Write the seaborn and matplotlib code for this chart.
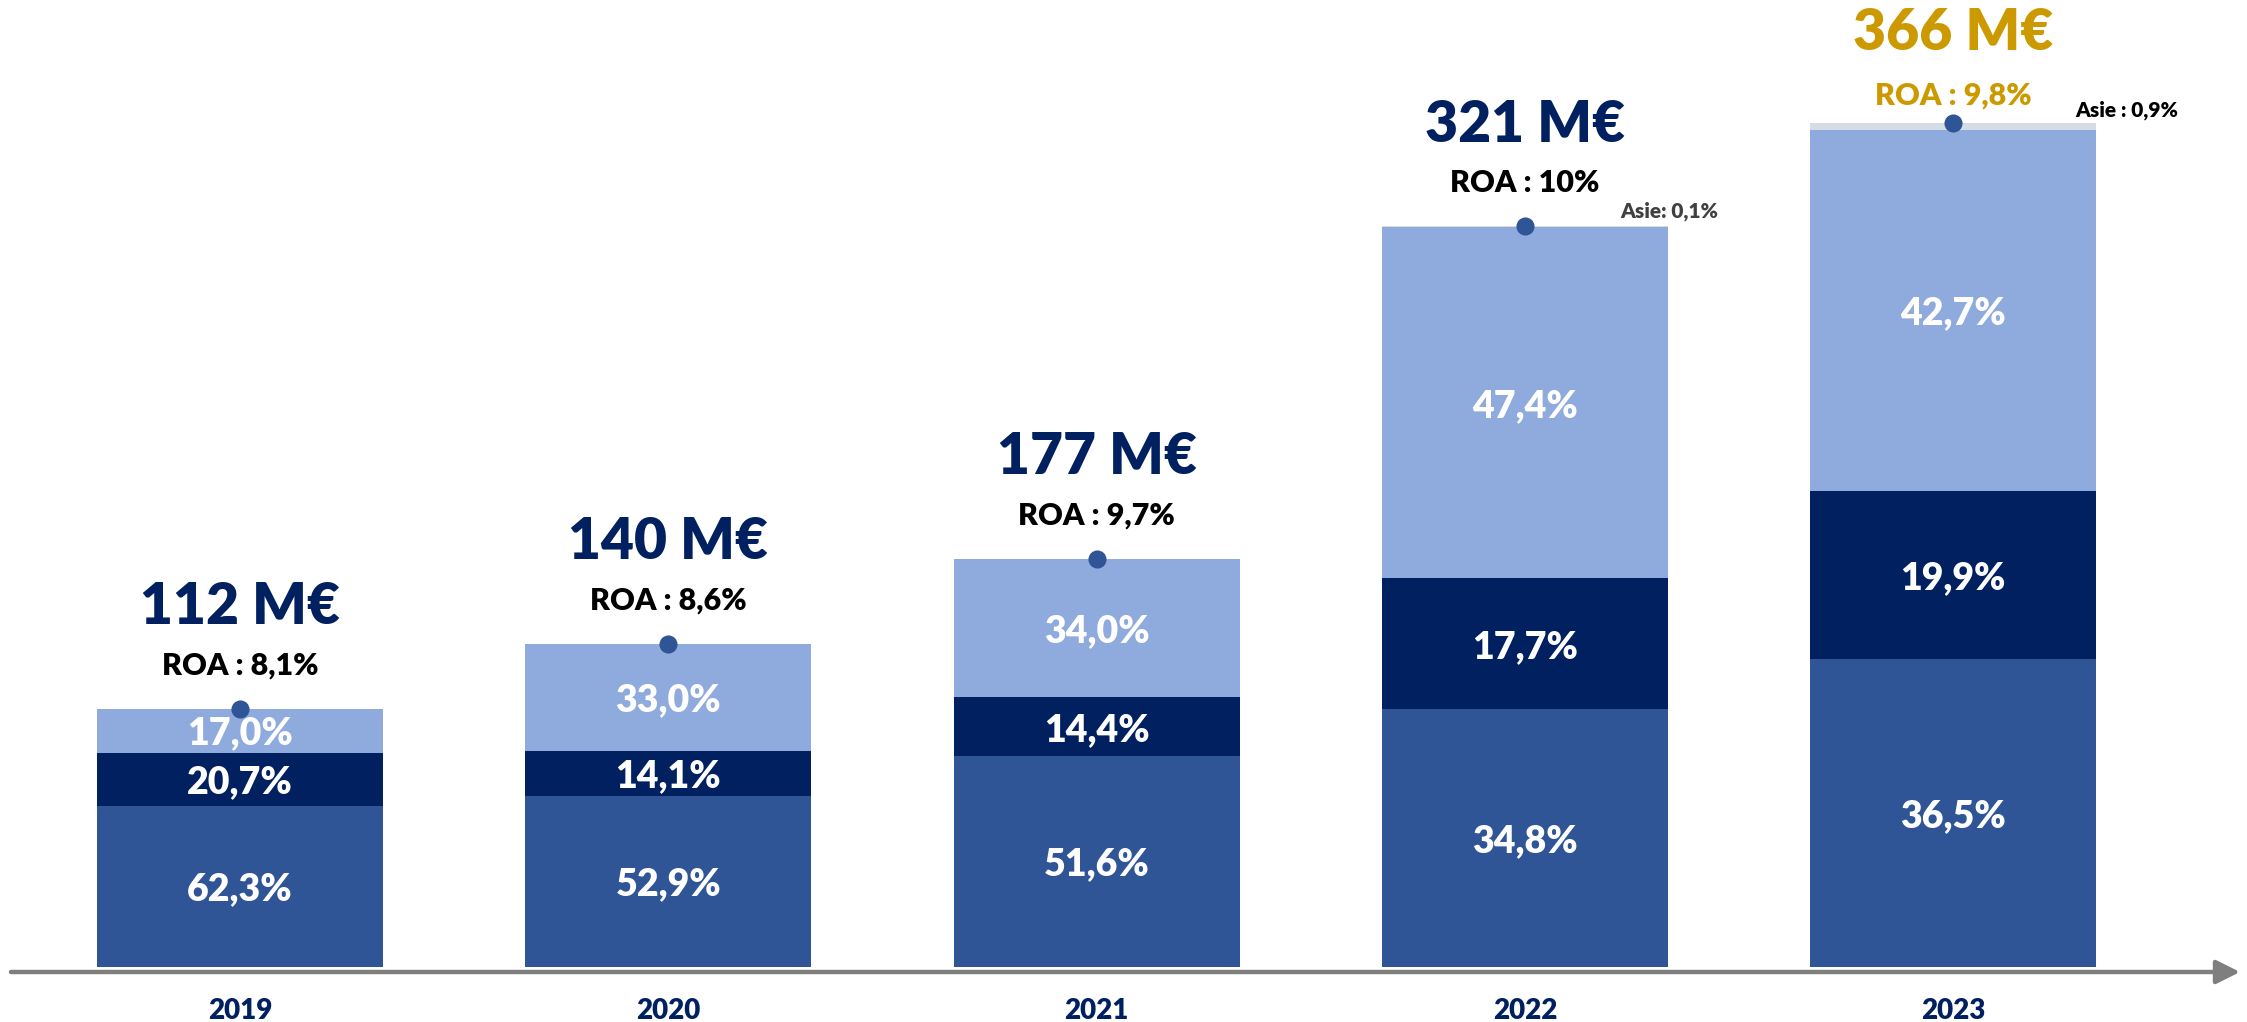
import numpy as np
import pandas as pd
import matplotlib
matplotlib.use("Agg")
import matplotlib.pyplot as plt
import seaborn as sns

# ---------------- data ----------------
years = ["2019", "2020", "2021", "2022", "2023"]
totals = [112, 140, 177, 321, 366]
total_labels = ["112 M€", "140 M€", "177 M€", "321 M€", "366 M€"]
roa_labels = ["ROA : 8,1%", "ROA : 8,6%", "ROA : 9,7%", "ROA : 10%", "ROA : 9,8%"]
share_dark = [62.3, 52.9, 51.6, 34.8, 36.5]
share_navy = [20.7, 14.1, 14.4, 17.7, 19.9]
share_light = [17.0, 33.0, 34.0, 47.4, 42.7]
share_asie = [0.0, 0.0, 0.0, 0.1, 0.9]
asie_labels = ["", "", "", "Asie: 0,1%", "Asie : 0,9%"]

# ---------------- style ----------------
sns.set_style("white")
plt.rcParams["font.family"] = ["Lato", "DejaVu Sans"]

C_DARK = "#2F5597"
C_NAVY = "#002060"
C_LIGHT = "#8FAADC"
C_ASIE = "#D6DCE5"
C_AXIS = "#7F7F7F"
C_GOLD = "#CC9A00"

W, H = 2247, 1022
fig = plt.figure(figsize=(W / 100, H / 100), dpi=100)
base_px = 55
ax = fig.add_axes([0, base_px / H, 1, 1 - base_px / H])

tot = np.array(totals, dtype=float)
d = np.array(share_dark) / 100 * tot
n = np.array(share_navy) / 100 * tot
l = np.array(share_light) / 100 * tot
cum1 = d
cum2 = d + n
cum3 = d + n + l
cum4 = tot

df = pd.DataFrame({"year": years, "c1": cum1, "c2": cum2, "c3": cum3, "c4": cum4})

bw = 0.668
for col, c in [("c4", C_ASIE), ("c3", C_LIGHT), ("c2", C_NAVY), ("c1", C_DARK)]:
    sns.barplot(data=df, x="year", y=col, order=years, color=c, saturation=1,
                width=bw, linewidth=0, edgecolor="none", ax=ax, errorbar=None)

# top markers
sns.pointplot(x=years, y=totals, order=years, color=C_DARK, linestyle="none",
              marker="o", markersize=11, ax=ax, errorbar=None)
for coll in ax.collections:
    coll.set_zorder(5)
for ln in ax.lines:
    ln.set_zorder(5)

# segment labels
pct_fmt = lambda v: f"{v:.1f}".replace(".", ",") + "%"
for i in range(len(years)):
    bottoms = [0, cum1[i], cum2[i]]
    heights = [d[i], n[i], l[i]]
    shares = [share_dark[i], share_navy[i], share_light[i]]
    for b, h, s in zip(bottoms, heights, shares):
        ax.text(i, b + h / 2, pct_fmt(s), ha="center", va="center_baseline",
                color="white", fontsize=27, fontweight="heavy", zorder=6)

# totals and ROA
for i in range(len(years)):
    is_last = i == len(years) - 1
    col = C_GOLD if is_last else C_NAVY
    roa_col = C_GOLD if is_last else "black"
    off_t = 52 if is_last else 61
    off_r = 13 if is_last else 24.5
    ax.annotate(total_labels[i], xy=(i, totals[i]), xytext=(0, off_t),
                textcoords="offset points", ha="center", va="baseline",
                fontsize=41, fontweight="heavy", color=col)
    ax.annotate(roa_labels[i], xy=(i, totals[i]), xytext=(0, off_r),
                textcoords="offset points", ha="center", va="baseline",
                fontsize=22, fontweight="heavy", color=roa_col)

# Asie labels
asie_cols = ["black", "black", "black", "#404040", "black"]
asie_dx = [0, 0, 0, 104, 125]
asie_dy = [0, 0, 0, 11, 9]
for i in range(len(years)):
    if asie_labels[i]:
        ax.annotate(asie_labels[i], xy=(i, totals[i]), xytext=(asie_dx[i], asie_dy[i]),
                    textcoords="offset points", ha="center", va="center",
                    fontsize=15, fontweight="heavy", color=asie_cols[i])

# axes
px_per_cat = 428.3
x0 = 240
ax.set_xlim(-x0 / px_per_cat, (W - x0) / px_per_cat)
ax.set_ylim(0, (H - base_px) / 2.307)
ax.set_xticks(range(len(years)))
ax.set_xticklabels(years, fontsize=20, fontweight="heavy", color=C_NAVY)
ax.set_yticks([])
ax.set_xlabel("")
ax.set_ylabel("")
ax.tick_params(axis="x", length=0, pad=22)
sns.despine(ax=ax, left=True, bottom=True)
ax.patch.set_alpha(0)

# axis arrow
fig.patches.append(matplotlib.patches.FancyArrowPatch(
    (11, 50), (2240, 50), transform=None, arrowstyle="-|>",
    mutation_scale=36, linewidth=3.2, color=C_AXIS, shrinkA=0, shrinkB=0))

fig.savefig("out.png", dpi=100)
